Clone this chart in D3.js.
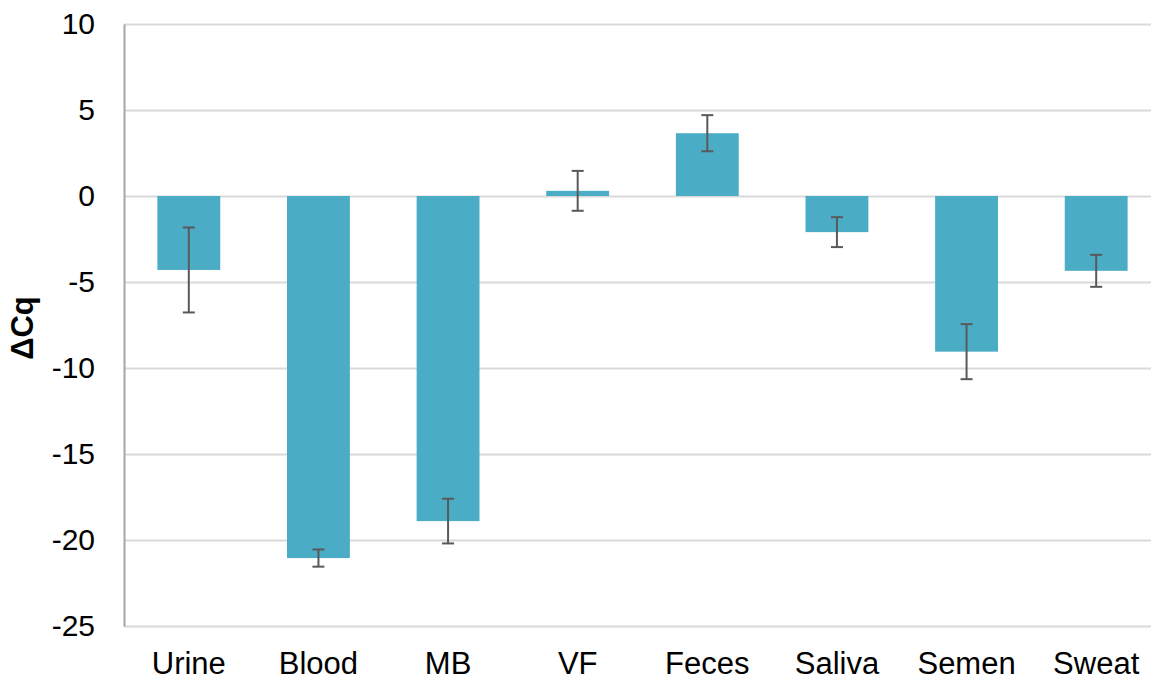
<!DOCTYPE html>
<html>
<head>
<meta charset="utf-8">
<script src="https://cdn.jsdelivr.net/npm/d3@7"></script>
<style>
  body { margin: 0; background: #fff; }
  svg text { font-family: "Liberation Sans", Arial, sans-serif; }
</style>
</head>
<body>
<div id="chart"></div>
<script>
var categories = ["Urine", "Blood", "MB", "VF", "Feces", "Saliva", "Semen", "Sweat"];
var values = [-4.3, -21.05, -18.9, 0.3, 3.65, -2.1, -9.05, -4.35];
var errors = [2.47, 0.5, 1.3, 1.16, 1.05, 0.87, 1.6, 0.93];
var yTicks = [10, 5, 0, -5, -10, -15, -20, -25];

var width = 1151, height = 681;
var margin = {top: 24, left: 124, bottom: 55, right: -10};

var svg = d3.select("#chart")
  .append("svg")
    .attr("width", width)
    .attr("height", height);

var x = d3.scaleBand()
    .domain(categories)
    .range([margin.left, width - margin.right])
    .paddingInner(0.515)
    .paddingOuter(0.2575);

var y = d3.scaleLinear()
    .domain([-25, 10])
    .range([height - margin.bottom, margin.top]);

// gridlines
svg.append("g")
  .selectAll("line")
  .data(yTicks)
  .enter().append("line")
    .attr("x1", margin.left)
    .attr("x2", width)
    .attr("y1", function(d) { return Math.round(y(d)) + 0.5; })
    .attr("y2", function(d) { return Math.round(y(d)) + 0.5; })
    .attr("stroke", "#d9d9d9")
    .attr("stroke-width", 2);

// bars
svg.append("g")
  .selectAll("rect")
  .data(values)
  .enter().append("rect")
    .attr("x", function(d, i) { return x(categories[i]); })
    .attr("width", x.bandwidth())
    .attr("y", function(d) { return y(Math.max(0, d)); })
    .attr("height", function(d) { return Math.abs(y(d) - y(0)); })
    .attr("fill", "#4bacc6");

// error bars
var eb = svg.append("g")
  .selectAll("g")
  .data(values)
  .enter().append("g")
    .attr("stroke", "#595959")
    .attr("stroke-width", 2);

eb.append("line")
    .attr("x1", function(d, i) { return x(categories[i]) + x.bandwidth() / 2; })
    .attr("x2", function(d, i) { return x(categories[i]) + x.bandwidth() / 2; })
    .attr("y1", function(d, i) { return y(d + errors[i]); })
    .attr("y2", function(d, i) { return y(d - errors[i]); });

[1, -1].forEach(function(s) {
  eb.append("line")
      .attr("x1", function(d, i) { return x(categories[i]) + x.bandwidth() / 2 - 6; })
      .attr("x2", function(d, i) { return x(categories[i]) + x.bandwidth() / 2 + 6; })
      .attr("y1", function(d, i) { return y(d + s * errors[i]); })
      .attr("y2", function(d, i) { return y(d + s * errors[i]); });
});

// y axis
var yAxis = svg.append("g")
    .attr("transform", "translate(" + margin.left + ",0)")
    .call(d3.axisLeft(y).tickValues(yTicks).tickSize(0).tickPadding(29)
      .tickFormat(function(d) { return String(d); }));
yAxis.select(".domain").attr("stroke", "#a6a6a6").attr("stroke-width", 2);
yAxis.selectAll("text")
    .attr("font-size", "30px")
    .attr("fill", "#000")
    .style("font-family", "'Liberation Sans', Arial, sans-serif");

// x axis labels
var xAxis = svg.append("g")
    .attr("transform", "translate(0," + y(-25) + ")")
    .call(d3.axisBottom(x).tickSize(0).tickPadding(26));
xAxis.select(".domain").remove();
xAxis.selectAll("text")
    .attr("font-size", "31px")
    .attr("fill", "#000")
    .style("font-family", "'Liberation Sans', Arial, sans-serif");

// y title
svg.append("text")
    .attr("transform", "translate(33," + 328 + ") rotate(-90)")
    .attr("text-anchor", "middle")
    .attr("font-size", "31px")
    .attr("font-weight", "bold")
    .text("ΔCq");
</script>
</body>
</html>
